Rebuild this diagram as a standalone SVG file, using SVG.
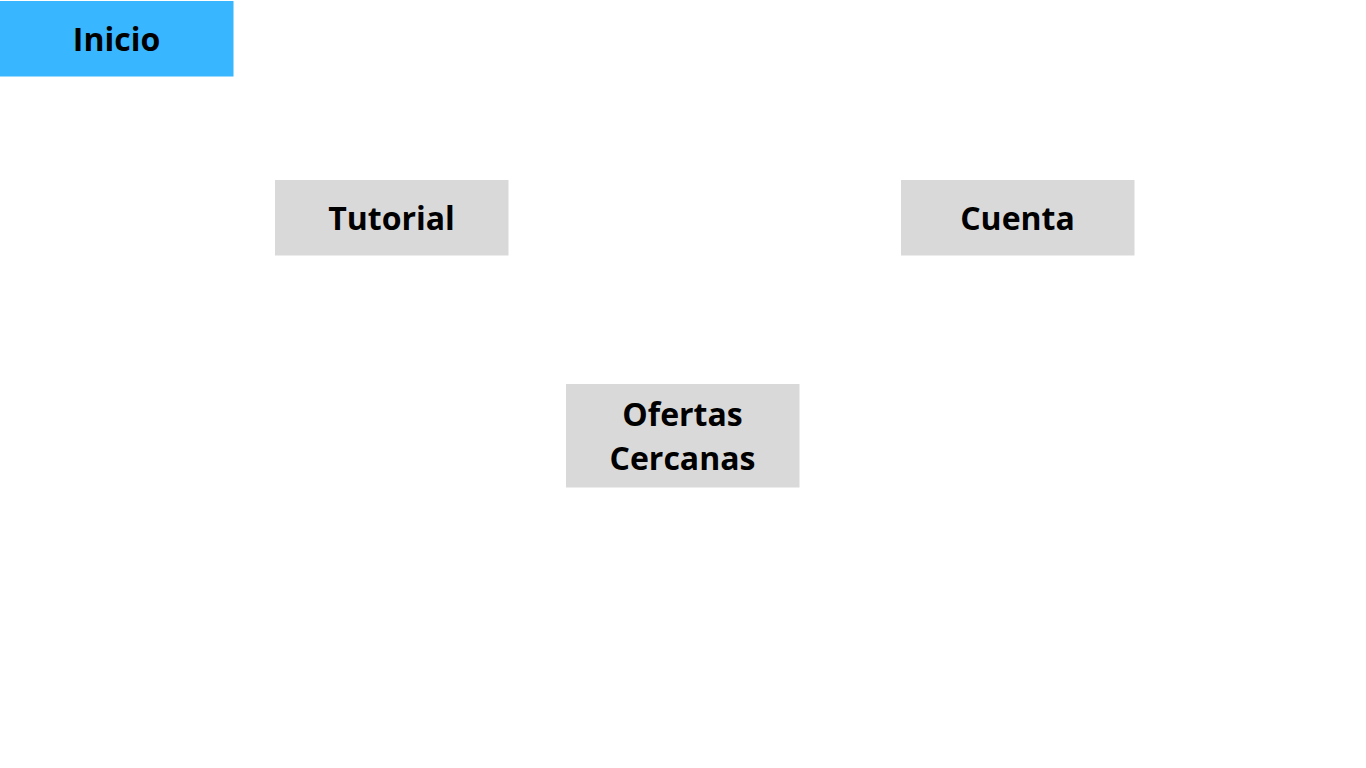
<svg xmlns="http://www.w3.org/2000/svg" width="1366" height="768" viewBox="0 0 1366 768">
<style>
.lbl{font-family:"Open Sans","Noto Sans","Liberation Sans",sans-serif;font-weight:700;font-size:32px;fill:#000;text-anchor:middle}
.gray{fill:#d9d9d9}
.blue{fill:#38b6ff}
</style>
<rect width="1366" height="768" fill="#fff"/>
<g id="connectors"></g>
<g id="inicio"><rect class="blue" x="0" y="1" width="233.5" height="75.5"/><text class="lbl" x="116.5" y="50.5">Inicio</text></g>
<g id="tutorial"><rect class="gray" x="275" y="180" width="233.5" height="75.5"/><text class="lbl" x="391.5" y="229.5">Tutorial</text></g>
<g id="cuenta"><rect class="gray" x="901" y="180" width="233.5" height="75.5"/><text class="lbl" x="1017.5" y="229.5">Cuenta</text></g>
<g id="ofertas"><rect class="gray" x="566" y="384" width="233.5" height="103.5"/><text class="lbl" x="682.5" y="425.5">Ofertas</text><text class="lbl" x="682.5" y="469.5">Cercanas</text></g>
</svg>
